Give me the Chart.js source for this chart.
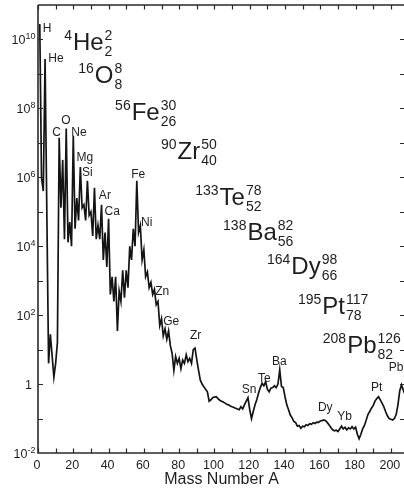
<!DOCTYPE html>
<html>
<head>
<meta charset="utf-8">
<script src="https://cdn.jsdelivr.net/npm/chart.js@4.4.1/dist/chart.umd.min.js"></script>
<style>
  html, body { margin: 0; padding: 0; background: #fff; overflow: hidden; width: 404px; height: 488px; }
  #wrap { position: relative; width: 410px; height: 488px; }
</style>
</head>
<body>
<div id="wrap"><canvas id="c" width="410" height="488"></canvas></div>
<script>
// Solar-system abundance per mass number (normalised to Si = 1e6)
const massNumbers = [
  1, 2, 3, 4, 6, 7, 9, 10, 11, 12, 13, 14, 15, 16, 17, 18, 19, 20,
  21, 22, 23, 24, 25, 26, 27, 28, 29, 30, 31, 32, 33, 34, 35, 36, 37, 38, 39, 40,
  41, 42, 43, 44, 45, 46, 47, 48, 49, 50, 51, 52, 53, 54, 55, 56, 57, 58, 59, 60,
  61, 62, 63, 64, 65, 66, 67, 68, 69, 70, 71, 72, 73, 74, 75, 76, 77, 78, 79, 80,
  81, 82, 83, 84, 85, 86, 87, 88, 89, 90, 91, 92, 93, 94, 95, 96, 97, 98, 99, 100,
  101, 102, 103, 104, 105, 106, 107, 108, 109, 110, 111, 112, 113, 114, 115, 116, 117, 118, 119, 120,
  121, 122, 123, 124, 125, 126, 127, 128, 129, 130, 131, 132, 133, 134, 135, 136, 137, 138, 139, 140,
  141, 142, 143, 144, 145, 146, 147, 148, 149, 150, 151, 152, 153, 154, 155, 156, 157, 158, 159, 160,
  161, 162, 163, 164, 165, 166, 167, 168, 169, 170, 171, 172, 173, 174, 175, 176, 177, 178, 179, 180,
  181, 182, 183, 184, 185, 186, 187, 188, 189, 190, 191, 192, 193, 194, 195, 196, 197, 198, 199, 200,
  201, 202, 203, 204, 205, 206, 207, 208
];
const abundances = [
  2.8e10, 9.5e5, 4.0e5, 2.7e9, 4.0, 28, 1.6, 4.0, 16, 1.4e7, 1.3e5, 3.2e6, 1.6e4, 2.6e7, 1.3e4, 5.0e4, 1.0e4, 1.6e7,
  3.2e4, 2.5e5, 5.6e4, 2.0e6, 1.3e5, 1.6e5, 5.6e4, 7.9e5, 7.9e4, 1.0e5, 2.0e4, 5.0e5, 1.6e4, 4.0e4, 1.6e4, 1.6e5, 4.0e3, 2.5e4, 2.5e3, 6.3e4,
  400, 1.3e3, 250, 1.3e3, 35, 500, 250, 2.0e3, 320, 2.0e3, 630, 1.0e4, 4.0e3, 3.2e4, 1.0e4, 7.9e5, 2.5e4, 4.0e4, 4.0e3, 7.9e3,
  1.3e3, 1.8e3, 630, 890, 400, 560, 200, 250, 50, 79, 25, 40, 20, 35, 13, 7.9, 2.5, 6.3, 4.0, 5.6,
  2.8, 5.0, 4.0, 7.1, 4.5, 5.6, 4.0, 10, 11, 5.0, 2.5, 1.3, 1.0, 0.83, 0.71, 0.60, 0.32, 0.35, 0.40, 0.42,
  0.43, 0.38, 0.34, 0.32, 0.30, 0.28, 0.26, 0.25, 0.23, 0.22, 0.21, 0.20, 0.19, 0.18, 0.22, 0.19, 0.25, 0.32, 0.40, 0.18,
  0.10, 0.16, 0.25, 0.35, 0.55, 0.79, 1.05, 0.89, 1.17, 0.71, 0.60, 0.76, 0.79, 0.89, 0.79, 1.0, 2.6, 0.85, 0.79, 0.43,
  0.25, 0.18, 0.126, 0.105, 0.083, 0.076, 0.060, 0.063, 0.052, 0.060, 0.058, 0.066, 0.063, 0.071, 0.068, 0.076, 0.072, 0.079, 0.078, 0.085,
  0.087, 0.091, 0.087, 0.076, 0.065, 0.055, 0.047, 0.044, 0.046, 0.042, 0.050, 0.060, 0.050, 0.056, 0.047, 0.054, 0.050, 0.058, 0.050, 0.056,
  0.035, 0.026, 0.035, 0.050, 0.063, 0.089, 0.13, 0.16, 0.20, 0.24, 0.32, 0.38, 0.43, 0.35, 0.28, 0.22, 0.16, 0.12, 0.10, 0.095,
  0.091, 0.10, 0.13, 0.25, 0.63, 0.95, 0.68, 0.50
];

// Axis ticks
const xTickLabels = [0, 20, 40, 60, 80, 100, 120, 140, 160, 180, 200];
const yLabelExponents = [-2, 0, 2, 4, 6, 8, 10];

// Element names placed beside their peaks (mass number, abundance of label centre)
const elementNames = ['H', 'He', 'C', 'O', 'Ne', 'Mg', 'Si', 'Ar', 'Ca', 'Fe', 'Ni', 'Zn', 'Ge', 'Zr', 'Sn', 'Te', 'Ba', 'Dy', 'Yb', 'Pt', 'Pb'];
const elementLabelMass = [5.1, 10.2, 10.5, 15.8, 23.2, 26.6, 28.0, 37.9, 42.1, 56.8, 61.6, 70.4, 75.5, 89.3, 119.6, 128.3, 136.8, 162.8, 173.8, 191.9, 202.9];
const elementLabelAbund = [2.0e10, 2.7e9, 2.0e7, 4.3e7, 2.0e7, 3.7e6, 1.4e6, 2.9e5, 9.8e4, 1.2e6, 4.7e4, 470, 63, 25, 0.68, 1.4, 4.4, 0.20, 0.11, 0.78, 3.0];

// Nuclides with mass number, element, neutron number (upper right) and proton number (lower right)
const nuclideMass = ['4', '16', '56', '90', '133', '138', '164', '195', '208'];
const nuclideSymbol = ['He', 'O', 'Fe', 'Zr', 'Te', 'Ba', 'Dy', 'Pt', 'Pb'];
const nuclideN = ['2', '8', '30', '50', '78', '82', '98', '117', '126'];
const nuclideZ = ['2', '8', '26', '40', '52', '56', '66', '78', '82'];
const nuclideAnchorMass = [19.8, 32.2, 53.1, 79.1, 102.9, 118.7, 143.6, 161.1, 175.2];
const nuclideAnchorAbund = [4.9e9, 5.4e8, 4.6e7, 3.4e6, 1.6e5, 1.5e4, 1.6e3, 108, 8.0];

const FONT = '"Liberation Sans", Arial, Helvetica, sans-serif';
const INK = '#1e1e1e';

const overlay = {
  id: 'overlay',
  afterDatasetsDraw(chart) {
    const { ctx, chartArea: a, scales: { x, y } } = chart;
    ctx.save();

    // frame
    ctx.strokeStyle = '#2a2a2a';
    ctx.lineWidth = 1.6;
    ctx.beginPath();
    ctx.moveTo(a.left, a.top); ctx.lineTo(a.right, a.top);
    ctx.moveTo(a.left, a.top); ctx.lineTo(a.left, a.bottom);
    ctx.lineTo(a.right, a.bottom); ctx.lineTo(a.right, a.top);
    ctx.stroke();

    // inward ticks
    ctx.lineWidth = 1.2;
    ctx.beginPath();
    for (let v = 0; v <= 200; v += 10) {
      const px = Math.round(x.getPixelForValue(v)) + 0.5;
      ctx.moveTo(px, a.bottom); ctx.lineTo(px, a.bottom - 4.5);
      ctx.moveTo(px, a.top); ctx.lineTo(px, a.top + 4.5);
    }
    for (let e = -1; e <= 10; e++) {
      const py = Math.round(y.getPixelForValue(Math.pow(10, e))) + 0.5;
      ctx.moveTo(a.left, py); ctx.lineTo(a.left + 5, py);
      ctx.moveTo(a.right, py); ctx.lineTo(a.right - 5, py);
    }
    ctx.stroke();

    ctx.fillStyle = INK;

    // x tick labels
    ctx.font = '12.5px ' + FONT;
    ctx.textAlign = 'center';
    ctx.textBaseline = 'alphabetic';
    xTickLabels.forEach(v => {
      ctx.fillText(String(v), x.getPixelForValue(v) - 1, a.bottom + 16);
    });

    // y tick labels as powers of ten
    yLabelExponents.forEach(e => {
      const py = y.getPixelForValue(Math.pow(10, e));
      if (e === 0) {
        ctx.font = '12.5px ' + FONT;
        ctx.textAlign = 'right';
        ctx.fillText('1', a.left - 6, py + 5);
        return;
      }
      const exp = String(e);
      ctx.font = '9px ' + FONT;
      const we = ctx.measureText(exp).width;
      ctx.textAlign = 'right';
      ctx.fillText(exp, a.left - 2.5, py);
      ctx.font = '12.5px ' + FONT;
      ctx.fillText('10', a.left - 2.5 - we, py + 5);
    });

    // axis title
    ctx.font = '16px ' + FONT;
    ctx.textAlign = 'center';
    ctx.fillText('Mass Number A', (a.left + a.right) / 2, 484);

    // element names
    ctx.font = '12px ' + FONT;
    ctx.textAlign = 'center';
    ctx.textBaseline = 'middle';
    elementNames.forEach((nm, i) => {
      ctx.fillText(nm, x.getPixelForValue(elementLabelMass[i]), y.getPixelForValue(elementLabelAbund[i]));
    });

    // nuclide notation
    ctx.textBaseline = 'alphabetic';
    nuclideSymbol.forEach((sym, i) => {
      const px = x.getPixelForValue(nuclideAnchorMass[i]);
      const py = y.getPixelForValue(nuclideAnchorAbund[i]);
      ctx.font = '24px ' + FONT;
      ctx.textAlign = 'left';
      ctx.fillText(sym, px, py);
      const w = ctx.measureText(sym).width;
      ctx.font = '14px ' + FONT;
      ctx.fillText(nuclideN[i], px + w + 1, py - 10);
      ctx.fillText(nuclideZ[i], px + w + 1, py + 6);
      ctx.textAlign = 'right';
      ctx.fillText(nuclideMass[i], px - 1, py - 10);
    });

    ctx.restore();
  }
};

new Chart(document.getElementById('c'), {
  type: 'line',
  data: {
    datasets: [{
      data: massNumbers.map((m, i) => ({ x: m, y: abundances[i] })),
      borderColor: '#141414',
      borderWidth: 1.7,
      pointRadius: 0,
      tension: 0,
      fill: false
    }]
  },
  options: {
    responsive: false,
    animation: false,
    devicePixelRatio: 1,
    layout: { padding: { top: 5, right: 5, left: 0, bottom: 0 } },
    plugins: { legend: { display: false }, tooltip: { enabled: false } },
    scales: {
      x: {
        type: 'linear', min: 0, max: 208,
        grid: { display: false }, border: { display: false },
        ticks: { display: false },
        afterFit(s) { s.height = 35; }
      },
      y: {
        type: 'logarithmic', min: 1e-2, max: 1e11,
        grid: { display: false }, border: { display: false },
        ticks: { display: false },
        afterFit(s) { s.width = 38; }
      }
    }
  },
  plugins: [overlay]
});
</script>
</body>
</html>
